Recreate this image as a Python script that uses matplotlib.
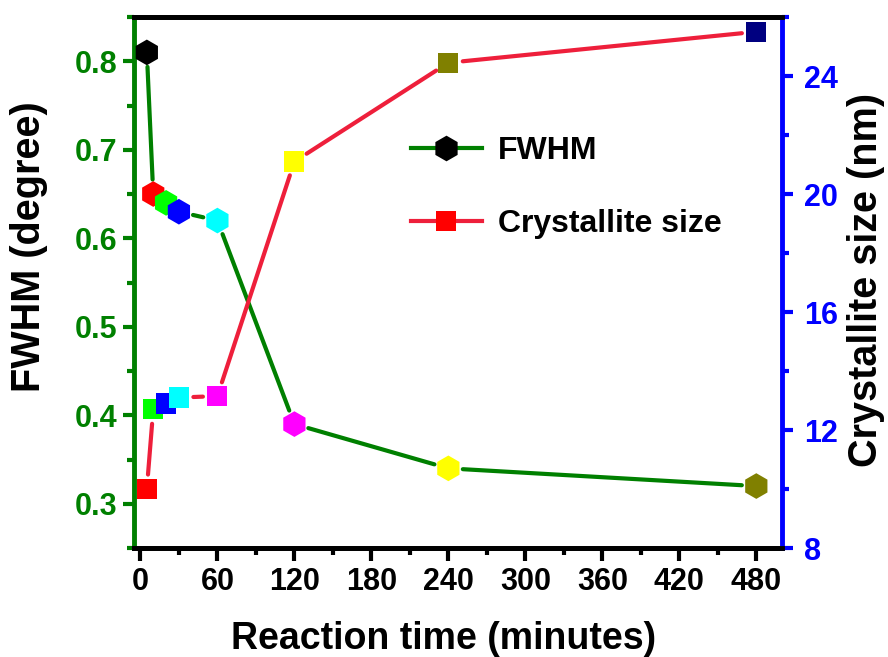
import numpy as np
import matplotlib
matplotlib.use("Agg")
import matplotlib.pyplot as plt
from matplotlib.lines import Line2D

plt.rcParams['font.family'] = ['Liberation Sans', 'DejaVu Sans']
plt.rcParams['font.weight'] = 'bold'

# Reaction time (minutes)
time_min = [5, 10, 20, 30, 60, 120, 240, 480]
# Peak width (degree)
fwhm = [0.81, 0.65, 0.64, 0.63, 0.62, 0.39, 0.34, 0.32]
# Crystallite size (nm)
cryst_size = [10.0, 12.7, 12.9, 13.1, 13.15, 21.1, 24.45, 25.5]

x_ticks = [0, 60, 120, 180, 240, 300, 360, 420, 480]
left_ticks = [0.3, 0.4, 0.5, 0.6, 0.7, 0.8]
right_ticks = [8, 12, 16, 20, 24]

fwhm_colors = ['#000000', '#FF0000', '#00FF00', '#0000FF', '#00FFFF',
               '#FF00FF', '#FFFF00', '#808000']
size_colors = ['#FF0000', '#00FF00', '#0000FF', '#00FFFF', '#FF00FF',
               '#FFFF00', '#808000', '#000080']

GREEN = '#008000'
BLUE = '#0000FF'
RED_LINE = '#EE1F3B'

fig = plt.figure(figsize=(8.88, 6.57), dpi=100)
ax = fig.add_axes([0.1509, 0.1659, 0.7297, 0.8082])
ax2 = ax.twinx()

ax.set_xlim(-5, 500)
ax.set_ylim(0.25, 0.85)
ax2.set_ylim(8, 26)


def gapped_segments(axis, xs, ys, gap_px):
    """Split a polyline into segments trimmed back from each point."""
    pts = axis.transData.transform(np.column_stack([xs, ys]))
    inv = axis.transData.inverted()
    segs = []
    for p0, p1 in zip(pts[:-1], pts[1:]):
        d = p1 - p0
        length = np.hypot(*d)
        if length <= 2 * gap_px + 1:
            continue
        u = d / length
        segs.append(inv.transform(np.array([p0 + u * gap_px, p1 - u * gap_px])))
    return segs


for seg in gapped_segments(ax, time_min, fwhm, 14.5):
    ax.plot(seg[:, 0], seg[:, 1], color=GREEN, lw=3, solid_capstyle='round',
            zorder=2)
ax.scatter(time_min, fwhm, marker='h', s=18.5**2, c=fwhm_colors,
           linewidths=0, zorder=3)

for seg in gapped_segments(ax2, time_min, cryst_size, 14.5):
    ax2.plot(seg[:, 0], seg[:, 1], color=RED_LINE, lw=3,
             solid_capstyle='round', zorder=2)
ax2.scatter(time_min, cryst_size, marker='s', s=14.5**2, c=size_colors,
            linewidths=0, zorder=3)

# Spines
for sp in ['left', 'right', 'top', 'bottom']:
    ax.spines[sp].set_linewidth(3.5)
    ax2.spines[sp].set_linewidth(3.5)
ax.spines['left'].set_color(GREEN)
ax.spines['right'].set_visible(False)
ax2.spines['left'].set_visible(False)
ax2.spines['right'].set_color(BLUE)
ax2.spines['top'].set_color('black')
ax2.spines['bottom'].set_color('black')

# Ticks
ax.set_xticks(x_ticks)
ax.set_xticks(np.arange(30, 500, 60), minor=True)
ax.set_yticks(left_ticks)
ax.set_yticks([0.25, 0.35, 0.45, 0.55, 0.65, 0.75, 0.85], minor=True)
ax2.set_yticks(right_ticks)
ax2.set_yticks([10, 14, 18, 22, 26], minor=True)

ax.set_yticklabels([f'{v:.1f}' for v in left_ticks])

ax.tick_params(axis='x', which='major', direction='out', length=9, width=3,
               labelsize=22, pad=5, colors='black', top=False)
ax.tick_params(axis='x', which='minor', direction='out', length=5, width=3,
               top=False)
ax.tick_params(axis='y', which='major', direction='out', length=8, width=3,
               labelsize=22, pad=4, colors=GREEN, right=False)
ax.tick_params(axis='y', which='minor', direction='out', length=5, width=3,
               colors=GREEN, right=False)
ax2.tick_params(axis='y', which='major', direction='out', length=8, width=3,
                labelsize=22, pad=8, colors=BLUE, left=False)
ax2.tick_params(axis='y', which='minor', direction='out', length=5, width=3,
                colors=BLUE, left=False)

for lab in ax.get_xticklabels() + ax.get_yticklabels() + ax2.get_yticklabels():
    lab.set_fontweight('bold')

# Axis titles
ax.set_xlabel('Reaction time (minutes)', fontsize=27, fontweight='bold')
ax.set_ylabel('FWHM (degree)', fontsize=28.5, fontweight='bold')
ax2.set_ylabel('Crystallite size (nm)', fontsize=28.5, fontweight='bold')
ax.xaxis.set_label_coords(0.477, -0.138)
ax.yaxis.set_label_coords(-0.133, 0.568)
ax2.yaxis.set_label_coords(1.1, 0.505)

# Legend
handles = [
    Line2D([], [], color=GREEN, lw=3, marker='h', markersize=18.5,
           markerfacecolor='black', markeredgewidth=0),
    Line2D([], [], color=RED_LINE, lw=3, marker='s', markersize=14.5,
           markerfacecolor='#FF0000', markeredgewidth=0),
]
leg = ax2.legend(handles, ['FWHM', 'Crystallite size'], loc='center left',
                 bbox_to_anchor=(0.428, 0.679), frameon=False, borderpad=0,
                 borderaxespad=0, handlelength=2.2, handletextpad=0.5,
                 labelspacing=1.35, prop={'size': 23, 'weight': 'bold'})

fig.savefig('out.png', dpi=100)
